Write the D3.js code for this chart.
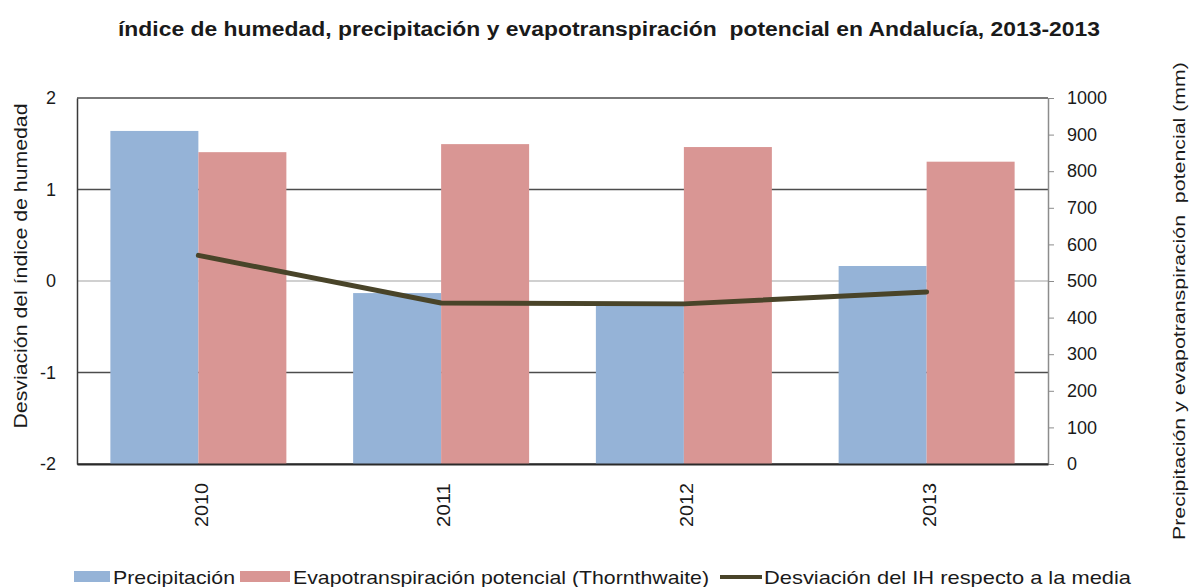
<!DOCTYPE html>
<html>
<head>
<meta charset="utf-8">
<script src="https://cdn.jsdelivr.net/npm/d3@7"></script>
<style>
  body { margin: 0; background: #fff; }
  svg text { font-family: "Liberation Sans", Arial, sans-serif; fill: #1a1a1a; white-space: pre; }
</style>
</head>
<body>
<div id="chart"></div>
<script>
var years = ["2010", "2011", "2012", "2013"];
var precipitacion = [910, 467, 443, 541];
var evapotranspiracion = [852, 874, 866, 826];
var desviacionIH = [0.28, -0.24, -0.25, -0.12];
var leftTicks = [-2, -1, 0, 1, 2];
var rightTicks = [0, 100, 200, 300, 400, 500, 600, 700, 800, 900, 1000];

var W = 1190, H = 587;
var margin = { top: 98, right: 142, bottom: 123, left: 77 },
  width = W - margin.left - margin.right,
  height = H - margin.top - margin.bottom;

var svg = d3.select("#chart").append("svg")
  .attr("width", W)
  .attr("height", H);

svg.append("text")
  .attr("x", 609)
  .attr("y", 36)
  .attr("text-anchor", "middle")
  .attr("font-weight", "bold")
  .attr("font-size", 20)
  .attr("textLength", 982)
  .attr("lengthAdjust", "spacingAndGlyphs")
  .text("índice de humedad, precipitación y evapotranspiración  potencial en Andalucía, 2013-2013");

var g = svg.append("g")
  .attr("transform", "translate(" + margin.left + "," + margin.top + ")");

var x = d3.scaleBand().domain(years).range([0, width]).paddingInner(0.275).paddingOuter(0.1375);
var yL = d3.scaleLinear().domain([-2, 2]).range([height, 0]);
var yR = d3.scaleLinear().domain([0, 1000]).range([height, 0]);
var barW = x.bandwidth() / 2;

// grid lines at left ticks
g.selectAll(".grid")
  .data(leftTicks)
  .enter()
  .append("line")
  .attr("x1", 0)
  .attr("x2", width)
  .attr("y1", function (d) { return yL(d); })
  .attr("y2", function (d) { return yL(d); })
  .attr("stroke", function (d) { return d === 0 ? "#c0c0c0" : "#4d4d4d"; })
  .attr("stroke-width", 1.5);

// bars
g.selectAll(".bar-p")
  .data(years)
  .enter()
  .append("rect")
  .attr("x", function (d) { return x(d); })
  .attr("width", barW)
  .attr("y", function (d, i) { return yR(precipitacion[i]); })
  .attr("height", function (d, i) { return height - yR(precipitacion[i]); })
  .attr("fill", "#95b3d7");

g.selectAll(".bar-e")
  .data(years)
  .enter()
  .append("rect")
  .attr("x", function (d) { return x(d) + barW; })
  .attr("width", barW)
  .attr("y", function (d, i) { return yR(evapotranspiracion[i]); })
  .attr("height", function (d, i) { return height - yR(evapotranspiracion[i]); })
  .attr("fill", "#d99694");

// left axis
var leftAxis = g.append("g")
  .call(d3.axisLeft(yL).tickValues(leftTicks).tickSize(0).tickPadding(21)
    .tickFormat(function (d) { return String(d); }));
leftAxis.select(".domain").attr("stroke", "#3a3a3a").attr("stroke-width", 1.5);
leftAxis.selectAll("text").attr("font-size", 18).attr("fill", "#1a1a1a");

// right axis
var rightAxis = g.append("g")
  .attr("transform", "translate(" + width + ",0)")
  .call(d3.axisRight(yR).tickValues(rightTicks).tickSize(6).tickPadding(13).tickSizeOuter(0)
    .tickFormat(function (d) { return String(d); }));
rightAxis.select(".domain").attr("stroke", "#8c8c8c").attr("stroke-width", 1.5);
rightAxis.selectAll(".tick line").attr("stroke", "#8c8c8c");
rightAxis.selectAll("text").attr("font-size", 18).attr("fill", "#1a1a1a");

// bottom axis labels
var bottomAxis = g.append("g")
  .attr("transform", "translate(0," + height + ")")
  .call(d3.axisBottom(x).tickSize(0).tickPadding(0));
bottomAxis.select(".domain").attr("stroke", "#2a2a2a").attr("stroke-width", 2);
bottomAxis.selectAll("text")
  .attr("font-size", 18)
  .attr("textLength", 44)
  .attr("lengthAdjust", "spacingAndGlyphs")
  .attr("transform", "rotate(-90)")
  .attr("text-anchor", "end")
  .attr("x", -19)
  .attr("y", 3)
  .attr("dy", "0.35em");

// line
var line = d3.line()
  .x(function (d, i) { return x(years[i]) + x.bandwidth() / 2; })
  .y(function (d) { return yL(d); });

g.append("path")
  .datum(desviacionIH)
  .attr("d", line)
  .attr("fill", "none")
  .attr("stroke", "#494429")
  .attr("stroke-width", 5)
  .attr("stroke-linecap", "round")
  .attr("stroke-linejoin", "round");

// axis titles
svg.append("text")
  .attr("transform", "translate(27,266) rotate(-90)")
  .attr("text-anchor", "middle")
  .attr("font-size", 18)
  .attr("textLength", 325)
  .attr("lengthAdjust", "spacingAndGlyphs")
  .text("Desviación del índice de humedad");

svg.append("text")
  .attr("transform", "translate(1185,301) rotate(-90)")
  .attr("text-anchor", "middle")
  .attr("font-size", 17)
  .attr("textLength", 478)
  .attr("lengthAdjust", "spacingAndGlyphs")
  .text("Precipitación y evapotranspiración  potencial (mm)");

// legend
var legendItems = [
  { label: "Precipitación", color: "#95b3d7", type: "rect", x: 74, tx: 113, tl: 122 },
  { label: "Evapotranspiración potencial (Thornthwaite)", color: "#d99694", type: "rect", x: 240, tx: 293, tl: 416 },
  { label: "Desviación del IH respecto a la media", color: "#494429", type: "line", x: 720, tx: 764, tl: 367 }
];

var legend = svg.append("g").attr("class", "legend");
legendItems.forEach(function (d) {
  if (d.type === "rect") {
    legend.append("rect")
      .attr("x", d.x)
      .attr("y", 571)
      .attr("width", d.tx - d.x - 3)
      .attr("height", 11)
      .attr("fill", d.color);
  } else {
    legend.append("line")
      .attr("x1", d.x)
      .attr("x2", d.tx - 2)
      .attr("y1", 577)
      .attr("y2", 577)
      .attr("stroke", d.color)
      .attr("stroke-width", 4);
  }
  legend.append("text")
    .attr("x", d.tx)
    .attr("y", 584)
    .attr("font-size", 19)
    .attr("textLength", d.tl)
    .attr("lengthAdjust", "spacingAndGlyphs")
    .text(d.label);
});
</script>
</body>
</html>
